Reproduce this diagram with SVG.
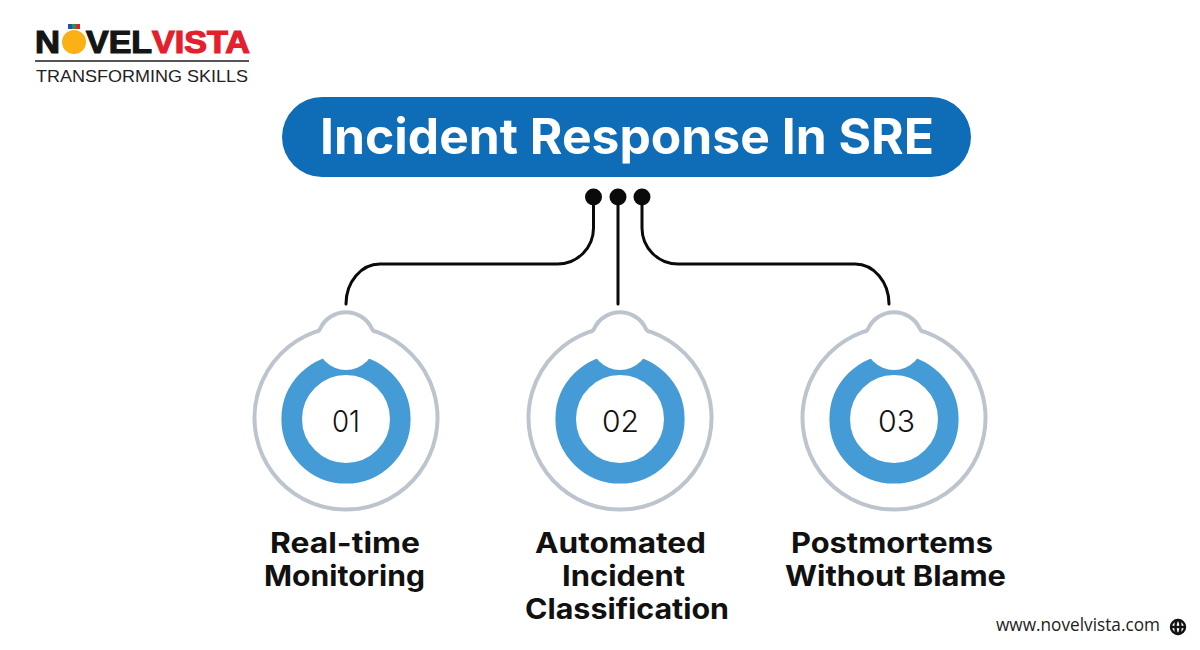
<svg xmlns="http://www.w3.org/2000/svg" width="1200" height="650" viewBox="0 0 1200 650">
<style>
.lbl{font-family:"Inter","Liberation Sans",sans-serif;font-weight:700;font-size:28px;fill:#111;text-anchor:start}
.num{font-family:"Inter","Liberation Sans",sans-serif;font-weight:300;font-size:30px;fill:#111}
.wire{fill:none;stroke:#0a0a0a;stroke-width:3;stroke-linecap:round}
.dot{fill:#0a0a0a}
.logo{font-family:"Liberation Sans",Arial,sans-serif;font-weight:700;font-size:31px;stroke-width:1.2}
</style>
<defs>
<path id="outline" d="M31.500 -85.900 Q27 -86.500 26 -89 A28.500 28.500 0 0 0 -26 -89 Q-27 -86.500 -31.500 -85.900 A91.500 91.500 0 1 0 31.500 -85.900 Z"/>
<g id="badge">
<use href="#outline" fill="#fff"/>
<circle cx="0" cy="1" r="54.300" fill="none" stroke="#449bd6" stroke-width="20.600"/>
<circle cx="0" cy="-77.500" r="29.500" fill="#fff"/>
<use href="#outline" fill="none" stroke="#bcc5ce" stroke-width="4" stroke-linejoin="round"/>
</g>
</defs>
<rect width="1200" height="650" fill="#fff"/>
<g id="logo">
<text x="35" y="53" class="logo" fill="#151515" stroke="#151515" textLength="25" lengthAdjust="spacingAndGlyphs">N</text>
<rect x="68" y="24" width="4" height="5" fill="#2b4ea8"/><rect x="72" y="24" width="4" height="5" fill="#2f8f4e"/><rect x="76" y="24" width="4" height="5" fill="#d8262c"/>
<circle cx="74" cy="42" r="12" fill="#fbb116"/>
<text x="86" y="53" class="logo" fill="#151515" stroke="#151515" textLength="66" lengthAdjust="spacingAndGlyphs">VEL</text>
<text x="152" y="53" class="logo" fill="#e3202c" stroke="#e3202c" textLength="98" lengthAdjust="spacingAndGlyphs">VISTA</text>
<rect x="35" y="60" width="214" height="2" fill="#555"/>
<text x="36" y="82" font-family="Liberation Sans,Arial,sans-serif" font-size="16.500" fill="#222" textLength="212" lengthAdjust="spacingAndGlyphs">TRANSFORMING SKILLS</text>
</g>
<g id="title">
<rect x="282" y="97" width="689" height="80" rx="40" fill="#0f6cb7"/>
<text x="320" y="153.500" font-family="Inter,Liberation Sans,sans-serif" font-weight="700" font-size="49" fill="#fff" textLength="614" lengthAdjust="spacingAndGlyphs">Incident Response In SRE</text>
</g>
<g id="connectors">
<path class="wire" d="M593.500 197V228A36 36 0 0 1 557.500 264H380A34 40 0 0 0 346 304"/>
<path class="wire" d="M618 197V304"/>
<path class="wire" d="M642 197V228A36 36 0 0 0 678 264H855A34 40 0 0 1 889 304"/>
<circle class="dot" cx="593.500" cy="197" r="8.500"/>
<circle class="dot" cx="618" cy="197" r="8.500"/>
<circle class="dot" cx="642" cy="197" r="8.500"/>
</g>
<g id="node-01">
<use href="#badge" x="346" y="418"/>
<text x="332" y="432" class="num" textLength="28" lengthAdjust="spacingAndGlyphs">01</text>
<text x="270" y="552.500" class="lbl" textLength="150" lengthAdjust="spacingAndGlyphs">Real-time</text>
<text x="264" y="585.500" class="lbl" textLength="161" lengthAdjust="spacingAndGlyphs">Monitoring</text>
</g>
<g id="node-02">
<use href="#badge" x="620" y="418"/>
<text x="602" y="432" class="num" textLength="37" lengthAdjust="spacingAndGlyphs">02</text>
<text x="535" y="552.500" class="lbl" textLength="171" lengthAdjust="spacingAndGlyphs">Automated</text>
<text x="562" y="585.500" class="lbl" textLength="123" lengthAdjust="spacingAndGlyphs">Incident</text>
<text x="525" y="618.500" class="lbl" textLength="204" lengthAdjust="spacingAndGlyphs">Classification</text>
</g>
<g id="node-03">
<use href="#badge" x="894" y="418"/>
<text x="878" y="432" class="num" textLength="37" lengthAdjust="spacingAndGlyphs">03</text>
<text x="791" y="552.500" class="lbl" textLength="202" lengthAdjust="spacingAndGlyphs">Postmortems</text>
<text x="785" y="585.500" class="lbl" textLength="221" lengthAdjust="spacingAndGlyphs">Without Blame</text>
</g>
<g id="footer">
<text x="996" y="631" font-family="Open Sans,Liberation Sans,sans-serif" font-size="18" fill="#222" textLength="164" lengthAdjust="spacingAndGlyphs">www.novelvista.com</text>
<g fill="none" stroke="#111" stroke-width="2.400">
<circle cx="1178" cy="627" r="7"/>
<ellipse cx="1178" cy="627" rx="2.500" ry="7"/>
<path d="M1171 627H1185"/>
</g>
</g>
</svg>
